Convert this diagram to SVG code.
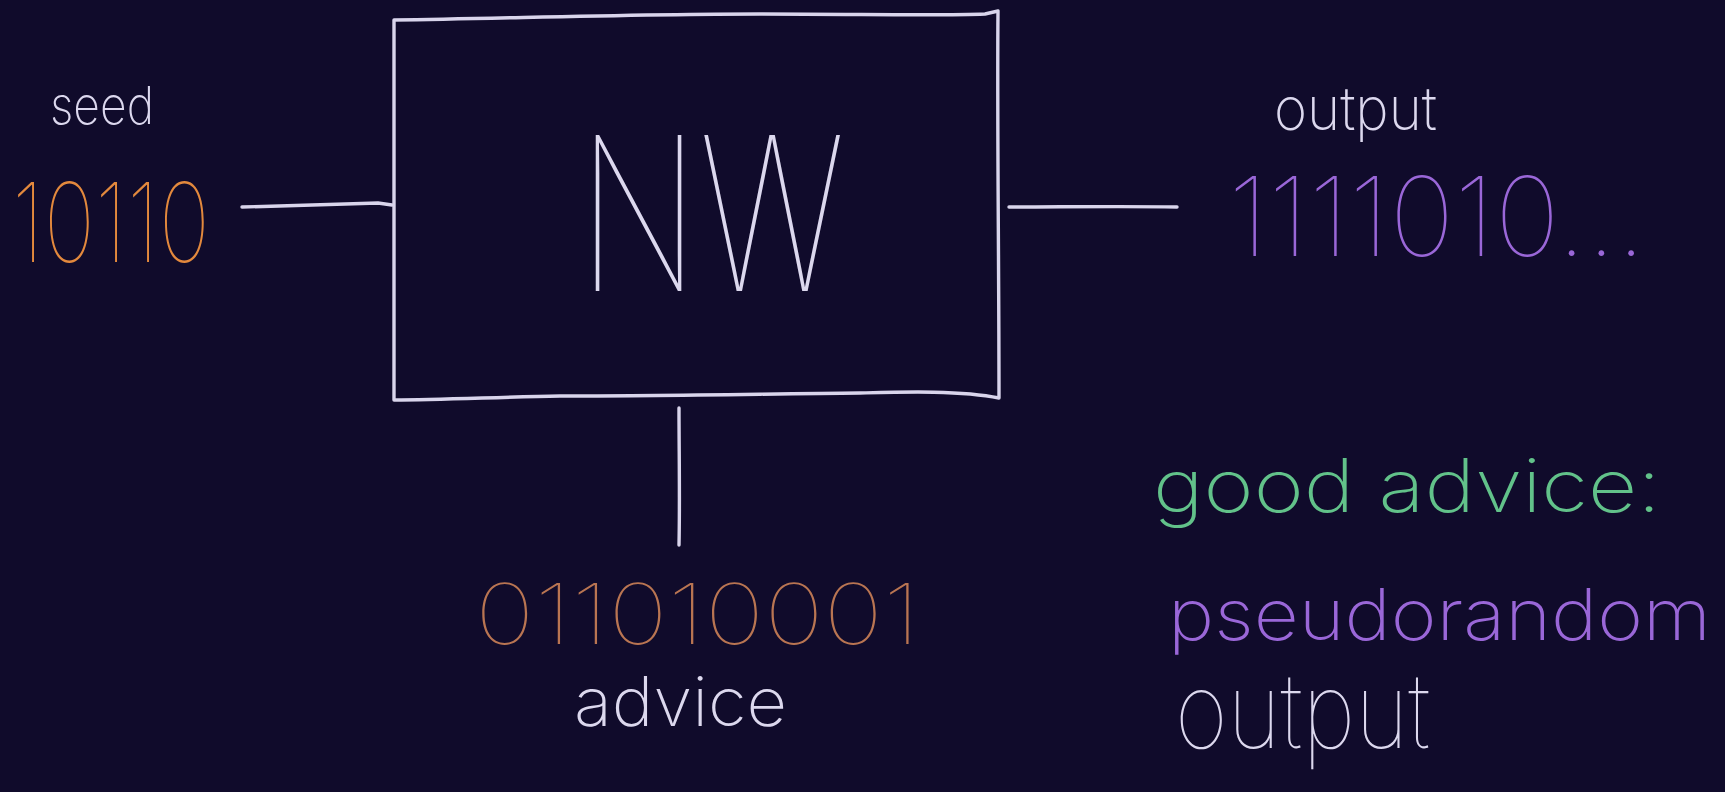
<svg xmlns="http://www.w3.org/2000/svg" width="1725" height="792" viewBox="0 0 1725 792">
  <style>
    .ink { fill: none; stroke: #d9d5ec; stroke-width: 3.4; stroke-linecap: round; stroke-linejoin: round; }
    .hand { font-family: Inter, "Open Sans", "Liberation Sans", sans-serif; font-weight: 200; }
    .thin { font-weight: 100; }
    .white { fill: #dcd8ee; }
    .orange { fill: #e3893d; }
    .brown { fill: #b97552; }
    .purple { fill: #9a67d8; }
    .green { fill: #62c28a; }
  </style>
  <rect width="1725" height="792" fill="#100b2b"/>

  <!-- network box -->
  <g id="nw">
    <path class="ink" d="M394,20 C520,18 640,14 760,14 C860,14 940,16 985,14 L998,11 C997,120 999,260 999,398 C960,390 900,392 860,393 C760,394 660,396 560,396 C500,397 440,400 394,400 C393,300 395,200 394,20 Z"/>
    <text class="hand white thin" x="578" y="291" font-size="214" textLength="267" lengthAdjust="spacingAndGlyphs">NW</text>
  </g>

  <!-- seed input -->
  <g id="seed">
    <text class="hand white" x="50" y="124" font-size="52" textLength="104" lengthAdjust="spacingAndGlyphs">seed</text>
    <text class="hand orange thin" x="12" y="262" font-size="110" textLength="198" lengthAdjust="spacingAndGlyphs">10110</text>
  </g>

  <!-- output -->
  <g id="output">
    <text class="hand white" x="1274" y="130" font-size="60" textLength="163" lengthAdjust="spacingAndGlyphs">output</text>
    <text class="hand purple thin" x="1228" y="256" font-size="110" textLength="418" lengthAdjust="spacingAndGlyphs">1111010...</text>
  </g>

  <!-- advice input -->
  <g id="advice">
    <text class="hand brown thin" x="475" y="644" font-size="84" textLength="445" lengthAdjust="spacingAndGlyphs">011010001</text>
    <text class="hand white" x="574" y="726" font-size="68" textLength="213" lengthAdjust="spacingAndGlyphs">advice</text>
  </g>

  <!-- note -->
  <g id="note">
    <text class="hand green" x="1153" y="512" font-size="74" textLength="508" lengthAdjust="spacingAndGlyphs">good advice:</text>
    <text class="hand purple" x="1168" y="640" font-size="72" textLength="543" lengthAdjust="spacingAndGlyphs">pseudorandom</text>
    <text class="hand white thin" x="1175" y="748" font-size="104" textLength="255" lengthAdjust="spacingAndGlyphs">output</text>
  </g>

  <!-- connectors -->
  <g id="connectors">
    <path class="ink" d="M242,207 C290,206 340,204 378,203 L392,205"/>
    <path class="ink" d="M1009,207 C1060,207 1120,206 1177,207"/>
    <path class="ink" d="M679,408 C679,450 680,500 679,545"/>
  </g>
</svg>
